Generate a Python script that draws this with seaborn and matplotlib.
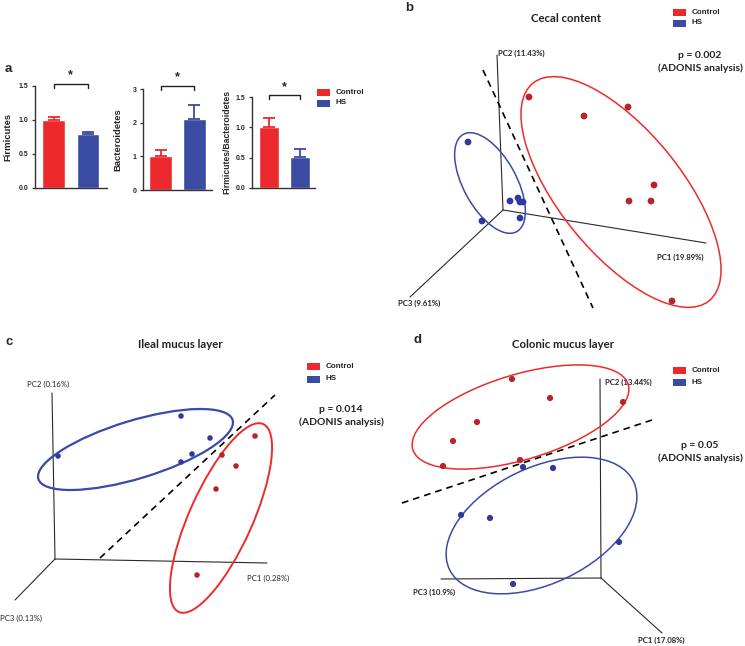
import numpy as np
import pandas as pd
import matplotlib
matplotlib.use("Agg")
import matplotlib.pyplot as plt
from matplotlib.patches import Ellipse, Rectangle
import seaborn as sns

# ---------------- data: panel a (relative abundance) ----------------
groups = ["Control", "HS"]
firm_mean = [1.00, 0.79]
firm_err = [0.05, 0.04]
bact_mean = [1.00, 2.10]
bact_err = [0.20, 0.42]
ratio_mean = [1.00, 0.51]
ratio_err = [0.15, 0.13]

# ---------------- data: PCoA projections (screen plane) ----------------
b_ctrl_x = [529, 584, 628, 654, 629, 651, 672]
b_ctrl_y = [97, 116, 107, 185, 201, 201, 301]
b_hs_x = [468, 510, 518, 520, 523, 482, 520]
b_hs_y = [142, 201, 198, 202, 202, 221, 218]

c_ctrl_x = [255, 222, 236, 216, 197]
c_ctrl_y = [436, 455, 466, 489, 575]
c_hs_x = [181, 210, 192, 181, 58]
c_hs_y = [416, 438, 454, 462, 456]

d_ctrl_x = [512, 550, 623, 477, 453, 443, 520]
d_ctrl_y = [379, 398, 402, 422, 441, 466, 460]
d_hs_x = [523, 553, 461, 490, 619, 513]
d_hs_y = [467, 468, 515, 518, 542, 584]

b_axis_labels = ["PC1 (19.89%)", "PC2 (11.43%)", "PC3 (9.61%)"]
c_axis_labels = ["PC1 (0.28%)", "PC2 (0.16%)", "PC3 (0.13%)"]
d_axis_labels = ["PC1 (17.08%)", "PC2 (13.44%)", "PC3 (10.9%)"]
titles = ["Cecal content", "Ileal mucus layer", "Colonic mucus layer"]
pvals = ["p = 0.002", "p = 0.014", "p = 0.05"]

# ---------------- style ----------------
sns.set_style("white")
plt.rcParams['font.family'] = ['Liberation Sans', 'DejaVu Sans']
RED = "#EC2A2E"
BLUE = "#3A4CA2"
PT_RED = "#B8242A"
PT_BLUE = "#2D3B9C"
ELL_RED = "#EE2B2B"
ELL_BLUE = "#3A4AA8"
TF = ["Lato", "DejaVu Sans"]

W, H = 745, 646
fig = plt.figure(figsize=(W / 100, H / 100), dpi=100)
ov = fig.add_axes([0, 0, 1, 1])
ov.set_xlim(0, W)
ov.set_ylim(H, 0)
ov.axis("off")


def legend(x, y, dy=11):
    for i, (g, c) in enumerate(zip(groups, [RED, BLUE])):
        ov.add_patch(Rectangle((x, y - 3 + i * dy), 13, 6.5, color=c, lw=0))
        ov.text(x + 19, y + i * dy, g, fontsize=5.8, fontweight="bold",
                ha="left", va="center", color="#222222")


def bar_panel(rect, means, errs, ylim, yticks, yticklabels, ylabel, ylab_x,
              ylab_size, xlim, width, br_y, br_drop, star_y):
    l, t, r, b = rect
    ax = fig.add_axes([l / W, 1 - b / H, (r - l) / W, (b - t) / H])
    df = pd.DataFrame({"group": groups, "value": means})
    sns.barplot(data=df, x="group", y="value", hue="group", palette=[RED, BLUE],
                width=width, ax=ax, legend=False, errorbar=None, saturation=1)
    for i, c in enumerate([RED, BLUE]):
        ax.errorbar([i], [means[i]], yerr=[[0], [errs[i]]], fmt="none",
                    ecolor=c, elinewidth=1.3, capsize=4.2, capthick=1.3)
    ax.set_xlim(*xlim)
    ax.set_ylim(*ylim)
    ax.set_yticks(yticks)
    ax.set_yticklabels(yticklabels, fontsize=5, fontweight="bold")
    ax.set_xticks([])
    ax.set_xlabel("")
    ax.set_ylabel(ylabel, fontsize=ylab_size, fontweight="bold", va="center")
    ax.yaxis.set_label_coords(ylab_x, 0.5)
    for s in ["top", "right"]:
        ax.spines[s].set_visible(False)
    for s in ["left", "bottom"]:
        ax.spines[s].set_linewidth(1.0)
        ax.spines[s].set_color("#333333")
    ax.tick_params(axis="y", direction="out", length=2.5, width=0.9,
                   color="#333333", pad=2, left=True)
    ax.patch.set_alpha(0)
    ax.plot([0, 0, 1, 1], [br_y - br_drop, br_y, br_y, br_y - br_drop],
            color="#222222", lw=1.0, clip_on=False)
    ax.text(0.5, star_y, "*", ha="center", va="center", fontsize=9,
            fontweight="bold", clip_on=False)
    return ax


bar_panel((35, 86, 107, 188), firm_mean, firm_err, (0, 1.5), [0, 0.5, 1.0, 1.5],
          ["0.0", "0.5", "1.0", "1.5"], "Firmicutes", -0.38, 6.8,
          (-0.54, 1.55), 0.65, 1.53, 0.06, 1.66)
bar_panel((143, 89, 212, 190), bact_mean, bact_err, (0, 3), [0, 1, 2, 3],
          ["0", "1", "2", "3"], "Bacteroidetes", -0.36, 6.8,
          (-0.515, 1.515), 0.68, 3.09, 0.12, 3.36)
bar_panel((252, 97, 315, 188), ratio_mean, ratio_err, (0, 1.5), [0, 0.5, 1.0, 1.5],
          ["0.0", "0.5", "1.0", "1.5"], "Firmicutes/Bacteroidetes", -0.40, 6.2,
          (-0.55, 1.48), 0.65, 1.53, 0.06, 1.66)
legend(317, 92)

# ---------------- PCoA panels ----------------
def pcoa(cx, cy, hx, hy, size):
    df = pd.DataFrame({"x": list(cx) + list(hx), "y": list(cy) + list(hy),
                       "group": ["Control"] * len(cx) + ["HS"] * len(hx)})
    sns.scatterplot(data=df, x="x", y="y", hue="group",
                    palette={"Control": PT_RED, "HS": PT_BLUE}, s=size,
                    edgecolor="none", ax=ov, legend=False, zorder=5)


def axes3d(origin, ends, labels, label_pos, bold):
    ox, oy = origin
    for (ex, ey) in ends:
        ov.plot([ox, ex], [oy, ey], color="#2a2a2a", lw=0.8, zorder=2)
    for lab, (lx, ly) in zip(labels, label_pos):
        ov.text(lx, ly, lab, fontsize=5.6, family=TF,
                fontweight="bold" if bold else "normal", ha="left", va="center",
                color="#222222")


def ellipse(c, w, h, ang, color, lw=1.1):
    ov.add_patch(Ellipse(c, w, h, angle=ang, fill=False, edgecolor=color, lw=lw, zorder=3))


def dashed(p0, p1):
    ov.plot([p0[0], p1[0]], [p0[1], p1[1]], color="black", lw=1.2,
            dashes=(4, 3), zorder=4)


def header(letter, lpos, title, tpos, ptxt, ppos):
    ov.text(lpos[0], lpos[1], letter, fontsize=9.5, fontweight="bold", ha="left", va="center")
    ov.text(tpos[0], tpos[1], title, fontsize=8.2, family=TF, fontweight="bold",
            ha="center", va="center", color="#222222")
    ov.text(ppos[0], ppos[1], ptxt, fontsize=7.5, family=TF, fontweight="bold",
            ha="center", va="center", color="#222222")
    ov.text(ppos[0], ppos[1] + 13, "(ADONIS analysis)", fontsize=7.5, family=TF,
            fontweight="bold", ha="center", va="center", color="#222222")


ov.text(5, 69, "a", fontsize=9.5, fontweight="bold", ha="left", va="center")

# panel b
header("b", (405, 8), titles[0], (566, 18), pvals[0], (700, 55))
legend(673, 12, 11)
axes3d((503, 210), [(706, 243), (497, 55), (410, 297)], b_axis_labels,
       [(657, 257), (498, 53), (398, 303)], True)
dashed((483, 70), (593, 308))
ellipse((621, 192), 280, 122, 51, ELL_RED)
ellipse((490, 183), 111, 53, 61.3, ELL_BLUE)
pcoa(b_ctrl_x, b_ctrl_y, b_hs_x, b_hs_y, 24)

# panel c
header("c", (5, 342), titles[1], (180, 345), pvals[1], (341, 409))
legend(307, 366, 13)
axes3d((55, 559), [(267, 563), (52, 393), (15, 600)], c_axis_labels,
       [(247, 578), (27, 384), (0, 618)], False)
dashed((100, 558), (275, 395))
ellipse((135.5, 449.5), 203, 58, -16.9, ELL_BLUE, lw=1.6)
ellipse((221, 518), 206, 63, -65.8, ELL_RED, lw=1.4)
pcoa(c_ctrl_x, c_ctrl_y, c_hs_x, c_hs_y, 16)

# panel d
header("d", (413, 340), titles[2], (563, 345), pvals[2], (700, 445))
legend(673, 370, 12)
axes3d((601, 578), [(662, 633), (600, 379), (441, 579)], d_axis_labels,
       [(638, 640), (605, 382), (413, 592)], True)
dashed((402, 503), (652, 420))
ellipse((520.5, 417), 225, 85, -16.8, ELL_RED)
ellipse((541.5, 525.5), 204, 116, -25.5, ELL_BLUE)
pcoa(d_ctrl_x, d_ctrl_y, d_hs_x, d_hs_y, 20)

fig.savefig("out.png", dpi=100, facecolor="white")
